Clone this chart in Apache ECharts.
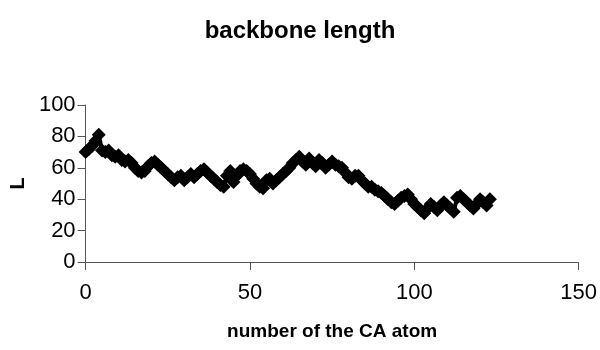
<!DOCTYPE html>
<html>
<head>
<meta charset="utf-8">
<script src="https://cdn.jsdelivr.net/npm/echarts@6/dist/echarts.min.js"></script>
<style>html,body{margin:0;padding:0;background:#fff}#c{width:600px;height:350px}</style>
</head>
<body>
<div id="c"></div>
<script>
var titleText = 'backbone length';
var xName = 'number of the CA atom';
var yName = 'L';
var xTicks = [0, 50, 100, 150];
var yTicks = [0, 20, 40, 60, 80, 100];
// value of L for CA atom 0, 1, 2, ...
var lengths = [
  70, 72, 74, 77, 81, 71, 70, 71, 68, 67,
  68, 65, 64, 65, 63, 60, 58, 57, 58, 61,
  63, 64, 62, 60, 58, 56, 54, 52, 54, 55,
  52, 54, 56, 54, 56, 58, 59, 57, 55, 53,
  51, 49, 48, 55, 58, 51, 55, 58, 59, 58,
  56, 53, 50, 48, 47, 52, 53, 50, 52, 54,
  56, 58, 60, 63, 65, 67, 64, 62, 66, 63,
  61, 65, 63, 60, 62, 64, 62, 61, 60, 57,
  54, 53, 55, 55, 52, 50, 48, 48, 46, 45,
  44, 42, 40, 38, 37, 39, 41, 42, 43, 40,
  37, 35, 33, 31, 34, 37, 35, 33, 36, 38,
  36, 34, 32, 41, 42, 40, 38, 36, 34, 37,
  40, 38, 36, 40
];
var atoms = lengths.map(function (v, i) { return i; });
var points = lengths.map(function (v, i) { return [atoms[i], v]; });

var FONT = "'Liberation Sans', Arial, sans-serif";
var chart = echarts.init(document.getElementById('c'), null, {renderer: 'canvas'});
chart.setOption({
  animation: false,
  backgroundColor: '#fff',
  title: {
    text: titleText, left: 'center', top: 14,
    textStyle: {fontFamily: FONT, fontSize: 24, fontWeight: 'bold', color: '#000'}
  },
  grid: {left: 85, right: 17, top: 105, bottom: 88, containLabel: false},
  xAxis: {
    type: 'value', min: xTicks[0], max: xTicks[xTicks.length - 1], interval: 50,
    name: xName, nameLocation: 'middle', nameGap: 60,
    nameTextStyle: {fontFamily: FONT, fontSize: 19, fontWeight: 'bold', color: '#000'},
    axisLine: {lineStyle: {color: '#555', width: 1}},
    axisTick: {show: true, inside: false, length: 8, lineStyle: {color: '#555'}},
    axisLabel: {fontFamily: FONT, fontSize: 22, color: '#000', margin: 20},
    splitLine: {show: false}
  },
  yAxis: {
    type: 'value', min: yTicks[0], max: yTicks[yTicks.length - 1], interval: 20,
    name: yName, nameLocation: 'middle', nameGap: 57, nameRotate: 90,
    nameTextStyle: {fontFamily: FONT, fontSize: 20, fontWeight: 'bold', color: '#000'},
    axisLine: {show: true, lineStyle: {color: '#555', width: 1}},
    axisTick: {show: true, inside: false, length: 8, lineStyle: {color: '#555'}},
    axisLabel: {fontFamily: FONT, fontSize: 22, color: '#000', margin: 10},
    splitLine: {show: false}
  },
  series: [{
    type: 'line', data: points,
    symbol: 'diamond', symbolSize: 14, showAllSymbol: true,
    lineStyle: {color: '#000', width: 4},
    itemStyle: {color: '#000'}
  }]
});
</script>
</body>
</html>
